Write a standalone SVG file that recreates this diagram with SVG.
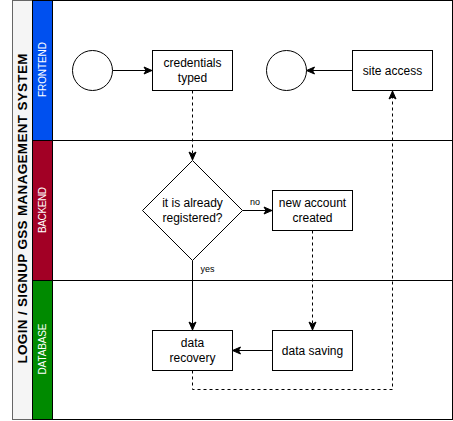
<svg xmlns="http://www.w3.org/2000/svg" width="453" height="421" viewBox="0 0 453 421">
<style>
.box{fill:#fff;stroke:#000;stroke-width:1}
.t{font-family:"Liberation Sans",Arial,sans-serif;font-size:12px;fill:#000;text-anchor:middle}
.lbl{font-family:"Liberation Sans",Arial,sans-serif;font-size:9px;fill:#000;text-anchor:middle}
.lane{fill:none;stroke:#000;stroke-width:1}
.lh{font-family:"Liberation Sans",Arial,sans-serif;font-size:10px;fill:#fff;text-anchor:middle}
.c{fill:none;stroke:#000;stroke-width:1}
.d{stroke-dasharray:3 3}
</style>
<defs>
<marker id="arr" markerUnits="userSpaceOnUse" markerWidth="10" markerHeight="10" viewBox="0 0 10 10" refX="9" refY="5" orient="auto">
<path d="M1,1.5 L9,5 L1,8.5 L3,5 Z" fill="#000" stroke="#000" stroke-width="1"/>
</marker>
</defs>
<g id="pool">
<rect x="12.5" y="0.5" width="20" height="419" fill="#f5f5f5" stroke="#666666"/>
<text x="0" y="0" transform="translate(27,208.5) rotate(-90)" font-family="'Liberation Sans',Arial,sans-serif" font-size="13.5" font-weight="bold" text-anchor="middle" fill="#000" textLength="310" lengthAdjust="spacing">LOGIN / SIGNUP  GSS MANAGEMENT SYSTEM</text>
</g>
<g id="lane-frontend">
<rect class="lane" x="32.5" y="0.5" width="420" height="140"/>
<rect x="32.5" y="0.5" width="20" height="140" fill="#0050EF" stroke="#000"/>
<text class="lh" transform="translate(46,69.5) rotate(-90)" textLength="55" lengthAdjust="spacing">FRONTEND</text>
</g>
<g id="lane-backend">
<rect class="lane" x="32.5" y="140.5" width="420" height="140"/>
<rect x="32.5" y="140.5" width="20" height="140" fill="#A20025" stroke="#000"/>
<text class="lh" transform="translate(46,210) rotate(-90)" textLength="46" lengthAdjust="spacing">BACKEND</text>
</g>
<g id="lane-database">
<rect class="lane" x="32.5" y="280.5" width="420" height="139"/>
<rect x="32.5" y="280.5" width="20" height="139" fill="#008A00" stroke="#000"/>
<text class="lh" transform="translate(46,349) rotate(-90)" textLength="51" lengthAdjust="spacing">DATABASE</text>
</g>
<g id="connectors">
<path class="c" d="M112.5,70.5 H152" marker-end="url(#arr)"/>
<path class="c" d="M352.5,70.5 H306.5" marker-end="url(#arr)"/>
<path class="c d" d="M192.5,90.5 V160" marker-end="url(#arr)"/>
<path class="c" d="M242.5,210.5 H272" marker-end="url(#arr)"/>
<path class="c" d="M192.5,260.5 V330" marker-end="url(#arr)"/>
<path class="c d" d="M312.5,230.5 V330" marker-end="url(#arr)"/>
<path class="c" d="M272.5,350.5 H232.5" marker-end="url(#arr)"/>
<path class="c d" d="M192.5,370.5 V389.5 H392.5 V91" marker-end="url(#arr)"/>
<text class="lbl" x="255" y="205">no</text>
<text class="lbl" x="207.5" y="272">yes</text>
</g>
<g id="start">
<circle class="box" cx="92.5" cy="70.5" r="20"/>
</g>
<g id="credentials">
<rect class="box" x="152.5" y="50.5" width="80" height="40"/>
<text class="t" x="192.5" y="67">credentials</text>
<text class="t" x="192.5" y="82">typed</text>
</g>
<g id="end">
<circle class="box" cx="286.5" cy="70.5" r="20"/>
</g>
<g id="site-access">
<rect class="box" x="352.5" y="50.5" width="80" height="40"/>
<text class="t" x="392.5" y="75">site access</text>
</g>
<g id="decision">
<path class="box" d="M192.5,160.5 L242.5,210.5 L192.5,260.5 L142.5,210.5 Z"/>
<text class="t" x="192.5" y="207">it is already</text>
<text class="t" x="192.5" y="222">registered?</text>
</g>
<g id="new-account">
<rect class="box" x="272.5" y="190.5" width="80" height="40"/>
<text class="t" x="312.5" y="207">new account</text>
<text class="t" x="312.5" y="222">created</text>
</g>
<g id="data-recovery">
<rect class="box" x="152.5" y="330.5" width="80" height="40"/>
<text class="t" x="192.5" y="347">data</text>
<text class="t" x="192.5" y="362">recovery</text>
</g>
<g id="data-saving">
<rect class="box" x="272.5" y="330.5" width="80" height="40"/>
<text class="t" x="312.5" y="355">data saving</text>
</g>
</svg>
